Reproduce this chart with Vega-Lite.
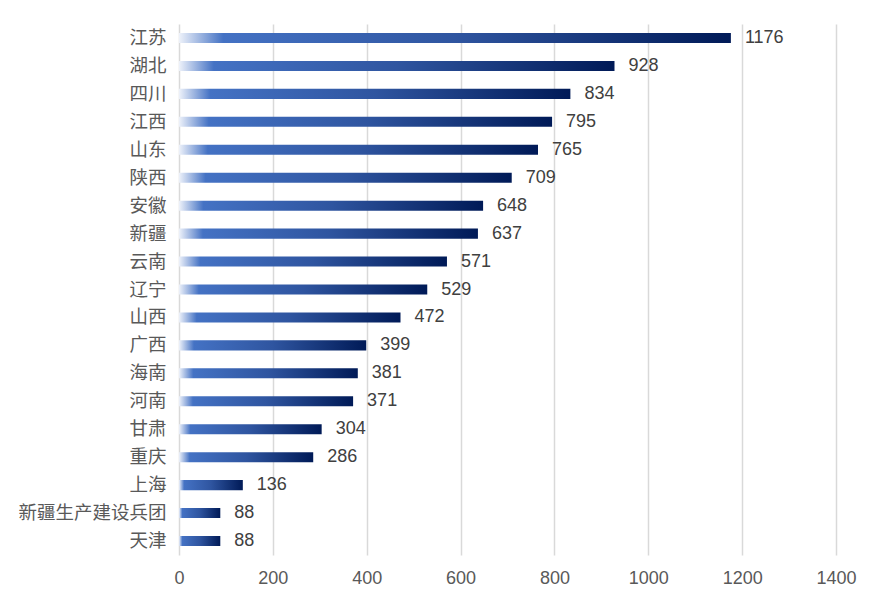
{
  "$schema": "https://vega.github.io/schema/vega-lite/v6.json",
  "autosize": "none",
  "width": 657,
  "height": 531,
  "padding": {"left": 179, "top": 24, "right": 33, "bottom": 52},
  "background": "white",
  "config": {"view": {"stroke": null}},
  "data": {"values": [
    {"region": "江苏", "value": 1176},
    {"region": "湖北", "value": 928},
    {"region": "四川", "value": 834},
    {"region": "江西", "value": 795},
    {"region": "山东", "value": 765},
    {"region": "陕西", "value": 709},
    {"region": "安徽", "value": 648},
    {"region": "新疆", "value": 637},
    {"region": "云南", "value": 571},
    {"region": "辽宁", "value": 529},
    {"region": "山西", "value": 472},
    {"region": "广西", "value": 399},
    {"region": "海南", "value": 381},
    {"region": "河南", "value": 371},
    {"region": "甘肃", "value": 304},
    {"region": "重庆", "value": 286},
    {"region": "上海", "value": 136},
    {"region": "新疆生产建设兵团", "value": 88},
    {"region": "天津", "value": 88}
  ]},
  "encoding": {
    "y": {
      "field": "region", "type": "nominal", "sort": null,
      "scale": {"paddingInner": 0.64, "paddingOuter": 0.32},
      "axis": {"title": null, "domain": false, "ticks": false, "labelPadding": 13,
        "labelFont": "Noto Sans CJK SC", "labelFontSize": 18.5, "labelColor": "#595959", "labelLimit": 300}
    },
    "x": {
      "field": "value", "type": "quantitative",
      "scale": {"domain": [0, 1400], "nice": false},
      "axis": {"title": null, "values": [0, 200, 400, 600, 800, 1000, 1200, 1400], "format": "d", "labelFlush": false, "domain": false, "ticks": false,
        "grid": true, "gridColor": "#d9d9d9", "gridWidth": 1.5, "labelPadding": 14,
        "labelFont": "Liberation Sans", "labelFontSize": 18, "labelColor": "#595959"}
    }
  },
  "layer": [
    {
      "mark": {"type": "bar", "fill": {
        "gradient": "linear", "x1": 0, "x2": 1, "y1": 0, "y2": 0,
        "stops": [
          {"offset": 0, "color": "#eef2fa"},
          {"offset": 0.08, "color": "#4472c4"},
          {"offset": 0.5, "color": "#2f55a0"},
          {"offset": 1, "color": "#001a57"}
        ]
      }}
    },
    {
      "mark": {"type": "text", "align": "left", "baseline": "middle", "dx": 14, "font": "Liberation Sans", "fontSize": 18, "color": "#404040"},
      "encoding": {"text": {"field": "value", "type": "quantitative", "format": "d"}}
    }
  ]
}
